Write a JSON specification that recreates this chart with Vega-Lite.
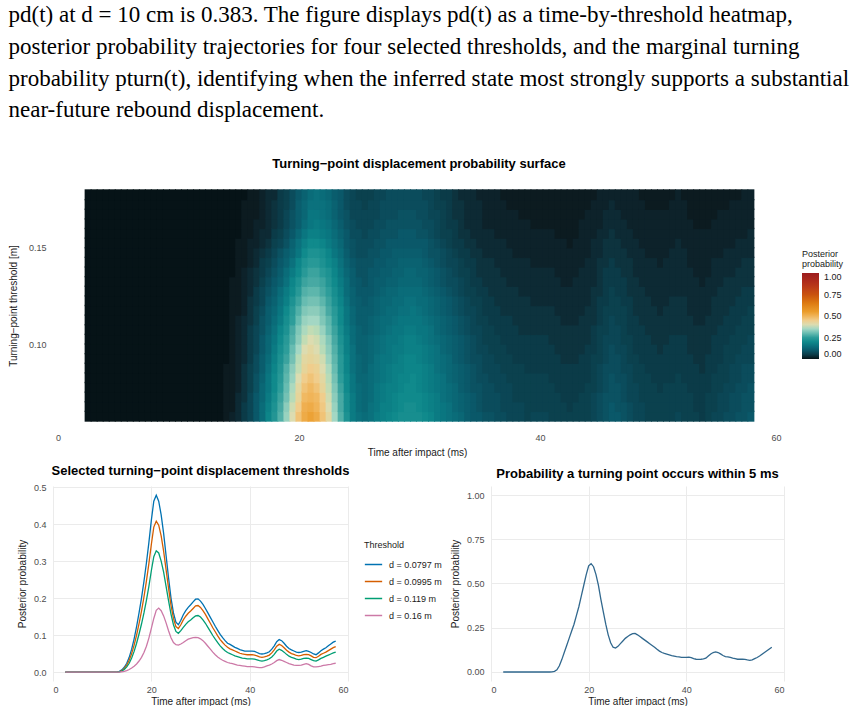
{
"$schema": "https://vega.github.io/schema/vega-lite/v6.json",
"background": "white",
"padding": {"left": 8, "top": 4, "right": 0, "bottom": 0},
"title": {"text": ["pd(t) at d = 10 cm is 0.383.  The figure displays pd(t) as a time-by-threshold heatmap,", "posterior probability trajectories for four selected thresholds, and the marginal turning", "probability pturn(t), identifying when the inferred state most strongly supports a substantial", "near-future rebound displacement."], "anchor": "start", "frame": "bounds", "font": "Liberation Serif", "fontSize": 23, "fontWeight": "normal", "lineHeight": 31.7, "color": "#000000", "offset": 36},
"config": {
  "view": {"stroke": null},
  "font": "Liberation Sans",
  "axis": {"domain": false, "ticks": false, "labelColor": "#4d4d4d", "labelFontSize": 9, "titleFontSize": 10, "titleFontWeight": "normal", "titleColor": "#1a1a1a", "gridColor": "#ebebeb", "gridWidth": 1},
  "legend": {"titleFontWeight": "normal", "titleFontSize": 9, "labelFontSize": 9, "labelColor": "#1a1a1a", "titleColor": "#1a1a1a"},
  "title": {"font": "Liberation Sans", "fontSize": 13, "fontWeight": "bold", "color": "#000000"}
},
"datasets": {
"th": [{"i":1,"d":0.0625},{"i":2,"d":0.0675},{"i":3,"d":0.0725},{"i":4,"d":0.0775},{"i":5,"d":0.0825},{"i":6,"d":0.0875},{"i":7,"d":0.0925},{"i":8,"d":0.0975},{"i":9,"d":0.1025},{"i":10,"d":0.1075},{"i":11,"d":0.1125},{"i":12,"d":0.1175},{"i":13,"d":0.1225},{"i":14,"d":0.1275},{"i":15,"d":0.1325},{"i":16,"d":0.1375},{"i":17,"d":0.1425},{"i":18,"d":0.1475},{"i":19,"d":0.1525},{"i":20,"d":0.1575},{"i":21,"d":0.1625},{"i":22,"d":0.1675},{"i":23,"d":0.1725},{"i":24,"d":0.1775}],
"hm": [
{"t":2.5,"p":[0,0,0,0,0,0,0,0,0,0,0,0,0,0,0,0,0,0,0,0,0,0,0,0]},
{"t":3.0,"p":[0,0,0,0,0,0,0,0,0,0,0,0,0,0,0,0,0,0,0,0,0,0,0,0]},
{"t":3.5,"p":[0,0,0,0,0,0,0,0,0,0,0,0,0,0,0,0,0,0,0,0,0,0,0,0]},
{"t":4.0,"p":[0,0,0,0,0,0,0,0,0,0,0,0,0,0,0,0,0,0,0,0,0,0,0,0]},
{"t":4.5,"p":[0,0,0,0,0,0,0,0,0,0,0,0,0,0,0,0,0,0,0,0,0,0,0,0]},
{"t":5.0,"p":[0,0,0,0,0,0,0,0,0,0,0,0,0,0,0,0,0,0,0,0,0,0,0,0]},
{"t":5.5,"p":[0,0,0,0,0,0,0,0,0,0,0,0,0,0,0,0,0,0,0,0,0,0,0,0]},
{"t":6.0,"p":[0,0,0,0,0,0,0,0,0,0,0,0,0,0,0,0,0,0,0,0,0,0,0,0]},
{"t":6.5,"p":[0,0,0,0,0,0,0,0,0,0,0,0,0,0,0,0,0,0,0,0,0,0,0,0]},
{"t":7.0,"p":[0,0,0,0,0,0,0,0,0,0,0,0,0,0,0,0,0,0,0,0,0,0,0,0]},
{"t":7.5,"p":[0,0,0,0,0,0,0,0,0,0,0,0,0,0,0,0,0,0,0,0,0,0,0,0]},
{"t":8.0,"p":[0,0,0,0,0,0,0,0,0,0,0,0,0,0,0,0,0,0,0,0,0,0,0,0]},
{"t":8.5,"p":[0,0,0,0,0,0,0,0,0,0,0,0,0,0,0,0,0,0,0,0,0,0,0,0]},
{"t":9.0,"p":[0,0,0,0,0,0,0,0,0,0,0,0,0,0,0,0,0,0,0,0,0,0,0,0]},
{"t":9.5,"p":[0,0,0,0,0,0,0,0,0,0,0,0,0,0,0,0,0,0,0,0,0,0,0,0]},
{"t":10.0,"p":[0,0,0,0,0,0,0,0,0,0,0,0,0,0,0,0,0,0,0,0,0,0,0,0]},
{"t":10.5,"p":[0,0,0,0,0,0,0,0,0,0,0,0,0,0,0,0,0,0,0,0,0,0,0,0]},
{"t":11.0,"p":[0,0,0,0,0,0,0,0,0,0,0,0,0,0,0,0,0,0,0,0,0,0,0,0]},
{"t":11.5,"p":[0,0,0,0,0,0,0,0,0,0,0,0,0,0,0,0,0,0,0,0,0,0,0,0]},
{"t":12.0,"p":[0,0,0,0,0,0,0,0,0,0,0,0,0,0,0,0,0,0,0,0,0,0,0,0]},
{"t":12.5,"p":[0,0,0,0,0,0,0,0,0,0,0,0,0,0,0,0,0,0,0,0,0,0,0,0]},
{"t":13.0,"p":[0,0,0,0,0,0,0,0,0,0,0,0,0,0,0,0,0,0,0,0,0,0,0,0]},
{"t":13.5,"p":[0,0,0,0,0,0,0,0,0,0,0,0,0,0,0,0,0,0,0,0,0,0,0,0]},
{"t":14.0,"p":[0.01,0.01,0.01,0.01,0.01,0.01,0,0,0,0,0,0,0,0,0,0,0,0,0,0,0,0,0,0]},
{"t":14.5,"p":[0.02,0.01,0.01,0.01,0.01,0.01,0.01,0.01,0.01,0.01,0.01,0.01,0.01,0.01,0.01,0,0,0,0,0,0,0,0,0]},
{"t":15.0,"p":[0.03,0.03,0.03,0.02,0.02,0.02,0.02,0.02,0.02,0.02,0.02,0.01,0.01,0.01,0.01,0.01,0.01,0.01,0.01,0,0,0,0,0]},
{"t":15.5,"p":[0.05,0.05,0.04,0.04,0.04,0.04,0.03,0.03,0.03,0.03,0.03,0.02,0.02,0.02,0.02,0.02,0.01,0.01,0.01,0.01,0.01,0.01,0.01,0]},
{"t":16.0,"p":[0.07,0.07,0.07,0.06,0.06,0.06,0.05,0.05,0.05,0.05,0.04,0.04,0.04,0.03,0.03,0.03,0.02,0.02,0.02,0.01,0.01,0.01,0.01,0.01]},
{"t":16.5,"p":[0.1,0.1,0.1,0.09,0.09,0.08,0.08,0.07,0.07,0.07,0.06,0.06,0.05,0.05,0.04,0.04,0.03,0.03,0.02,0.02,0.02,0.01,0.01,0.01]},
{"t":17.0,"p":[0.14,0.14,0.13,0.13,0.12,0.11,0.11,0.1,0.1,0.09,0.09,0.08,0.07,0.07,0.06,0.05,0.05,0.04,0.03,0.03,0.02,0.02,0.02,0.02]},
{"t":17.5,"p":[0.19,0.18,0.17,0.16,0.16,0.15,0.14,0.13,0.13,0.12,0.11,0.11,0.1,0.09,0.08,0.07,0.06,0.05,0.04,0.03,0.03,0.03,0.03,0.03]},
{"t":18.0,"p":[0.23,0.22,0.21,0.2,0.2,0.19,0.18,0.17,0.16,0.15,0.14,0.13,0.12,0.11,0.1,0.09,0.08,0.07,0.06,0.05,0.04,0.04,0.04,0.03]},
{"t":18.5,"p":[0.28,0.27,0.26,0.25,0.24,0.23,0.22,0.21,0.2,0.19,0.17,0.16,0.15,0.14,0.12,0.11,0.1,0.09,0.07,0.06,0.05,0.05,0.05,0.05]},
{"t":19.0,"p":[0.34,0.33,0.31,0.3,0.29,0.28,0.26,0.25,0.24,0.22,0.21,0.2,0.18,0.17,0.15,0.14,0.12,0.11,0.09,0.08,0.07,0.07,0.06,0.06]},
{"t":19.5,"p":[0.4,0.39,0.37,0.36,0.34,0.33,0.31,0.3,0.28,0.27,0.25,0.24,0.22,0.2,0.19,0.17,0.15,0.13,0.12,0.1,0.09,0.09,0.08,0.08]},
{"t":20.0,"p":[0.47,0.45,0.43,0.42,0.4,0.38,0.37,0.35,0.33,0.32,0.3,0.28,0.26,0.24,0.22,0.2,0.19,0.16,0.15,0.13,0.11,0.11,0.11,0.1]},
{"t":20.5,"p":[0.52,0.51,0.49,0.47,0.45,0.43,0.42,0.4,0.38,0.36,0.34,0.32,0.3,0.28,0.26,0.24,0.22,0.2,0.18,0.16,0.14,0.13,0.13,0.12]},
{"t":21.0,"p":[0.54,0.52,0.5,0.49,0.47,0.45,0.43,0.42,0.4,0.38,0.35,0.33,0.31,0.29,0.27,0.26,0.24,0.22,0.2,0.18,0.16,0.16,0.15,0.14]},
{"t":21.5,"p":[0.52,0.5,0.49,0.47,0.45,0.44,0.42,0.4,0.39,0.37,0.35,0.33,0.31,0.29,0.27,0.26,0.24,0.22,0.2,0.18,0.17,0.16,0.15,0.15]},
{"t":22.0,"p":[0.47,0.46,0.45,0.43,0.42,0.4,0.39,0.37,0.36,0.34,0.32,0.31,0.29,0.27,0.26,0.24,0.22,0.21,0.19,0.17,0.16,0.15,0.15,0.14]},
{"t":22.5,"p":[0.42,0.4,0.39,0.38,0.37,0.36,0.34,0.33,0.32,0.3,0.29,0.27,0.26,0.25,0.23,0.22,0.2,0.19,0.17,0.16,0.15,0.14,0.14,0.13]},
{"t":23.0,"p":[0.35,0.34,0.33,0.32,0.31,0.3,0.29,0.28,0.27,0.26,0.25,0.24,0.22,0.21,0.2,0.19,0.18,0.16,0.15,0.14,0.13,0.12,0.12,0.11]},
{"t":23.5,"p":[0.28,0.27,0.27,0.26,0.25,0.24,0.24,0.23,0.22,0.21,0.2,0.2,0.19,0.18,0.17,0.16,0.15,0.14,0.13,0.12,0.11,0.1,0.1,0.1]},
{"t":24.0,"p":[0.22,0.21,0.21,0.2,0.2,0.19,0.19,0.18,0.18,0.17,0.16,0.16,0.15,0.14,0.14,0.13,0.12,0.11,0.1,0.1,0.09,0.09,0.08,0.08]},
{"t":24.5,"p":[0.17,0.17,0.17,0.16,0.16,0.15,0.15,0.15,0.14,0.14,0.13,0.13,0.12,0.12,0.11,0.11,0.1,0.09,0.09,0.08,0.08,0.07,0.07,0.07]},
{"t":25.0,"p":[0.15,0.14,0.14,0.14,0.13,0.13,0.13,0.12,0.12,0.12,0.11,0.11,0.11,0.1,0.1,0.09,0.09,0.08,0.08,0.08,0.07,0.07,0.07,0.06]},
{"t":25.5,"p":[0.14,0.13,0.13,0.13,0.13,0.12,0.12,0.12,0.12,0.11,0.11,0.11,0.1,0.1,0.09,0.09,0.09,0.08,0.08,0.07,0.07,0.07,0.06,0.06]},
{"t":26.0,"p":[0.15,0.15,0.14,0.14,0.14,0.14,0.13,0.13,0.13,0.12,0.12,0.11,0.11,0.1,0.1,0.1,0.09,0.09,0.08,0.08,0.07,0.07,0.07,0.06]},
{"t":26.5,"p":[0.17,0.16,0.16,0.16,0.15,0.15,0.15,0.14,0.14,0.13,0.13,0.12,0.12,0.11,0.11,0.1,0.1,0.09,0.09,0.08,0.08,0.07,0.07,0.07]},
{"t":27.0,"p":[0.18,0.18,0.17,0.17,0.16,0.16,0.16,0.15,0.15,0.14,0.14,0.13,0.13,0.12,0.11,0.11,0.1,0.1,0.09,0.09,0.08,0.08,0.08,0.07]},
{"t":27.5,"p":[0.19,0.18,0.18,0.18,0.17,0.17,0.16,0.16,0.16,0.15,0.14,0.14,0.13,0.13,0.12,0.11,0.11,0.1,0.1,0.09,0.09,0.08,0.08,0.08]},
{"t":28.0,"p":[0.2,0.19,0.19,0.18,0.18,0.18,0.17,0.17,0.16,0.16,0.15,0.14,0.14,0.13,0.12,0.12,0.11,0.11,0.1,0.09,0.09,0.08,0.08,0.08]},
{"t":28.5,"p":[0.21,0.2,0.2,0.19,0.19,0.18,0.18,0.17,0.17,0.16,0.16,0.15,0.14,0.14,0.13,0.12,0.12,0.11,0.1,0.1,0.09,0.09,0.08,0.08]},
{"t":29.0,"p":[0.21,0.21,0.2,0.2,0.19,0.19,0.19,0.18,0.18,0.17,0.16,0.15,0.15,0.14,0.13,0.13,0.12,0.11,0.1,0.1,0.09,0.09,0.08,0.08]},
{"t":29.5,"p":[0.21,0.21,0.2,0.2,0.2,0.19,0.19,0.18,0.18,0.17,0.16,0.16,0.15,0.14,0.13,0.13,0.12,0.11,0.1,0.1,0.09,0.09,0.08,0.08]},
{"t":30.0,"p":[0.21,0.2,0.2,0.19,0.19,0.19,0.18,0.18,0.17,0.16,0.16,0.15,0.14,0.14,0.13,0.12,0.12,0.11,0.1,0.09,0.09,0.08,0.08,0.08]},
{"t":30.5,"p":[0.2,0.19,0.19,0.18,0.18,0.18,0.17,0.17,0.16,0.16,0.15,0.14,0.14,0.13,0.12,0.12,0.11,0.1,0.1,0.09,0.08,0.08,0.08,0.07]},
{"t":31.0,"p":[0.19,0.18,0.18,0.17,0.17,0.17,0.16,0.16,0.15,0.15,0.14,0.13,0.13,0.12,0.11,0.11,0.1,0.09,0.09,0.08,0.08,0.07,0.07,0.07]},
{"t":31.5,"p":[0.17,0.17,0.17,0.16,0.16,0.15,0.15,0.15,0.14,0.13,0.13,0.12,0.12,0.11,0.1,0.1,0.09,0.09,0.08,0.07,0.07,0.07,0.06,0.06]},
{"t":32.0,"p":[0.16,0.16,0.15,0.15,0.15,0.14,0.14,0.13,0.13,0.12,0.12,0.11,0.11,0.1,0.09,0.09,0.08,0.08,0.07,0.06,0.06,0.06,0.06,0.05]},
{"t":32.5,"p":[0.15,0.15,0.14,0.14,0.13,0.13,0.13,0.12,0.12,0.11,0.11,0.1,0.1,0.09,0.08,0.08,0.07,0.07,0.06,0.06,0.05,0.05,0.05,0.05]},
{"t":33.0,"p":[0.14,0.13,0.13,0.13,0.12,0.12,0.11,0.11,0.11,0.1,0.1,0.09,0.09,0.08,0.08,0.07,0.07,0.06,0.05,0.05,0.05,0.04,0.04,0.04]},
{"t":33.5,"p":[0.13,0.12,0.12,0.11,0.11,0.11,0.1,0.1,0.1,0.09,0.09,0.08,0.08,0.07,0.07,0.06,0.06,0.05,0.05,0.04,0.04,0.04,0.04,0.03]},
{"t":34.0,"p":[0.11,0.11,0.11,0.1,0.1,0.1,0.09,0.09,0.09,0.08,0.08,0.07,0.07,0.06,0.06,0.06,0.05,0.05,0.04,0.04,0.03,0.03,0.03,0.03]},
{"t":34.5,"p":[0.1,0.1,0.1,0.09,0.09,0.09,0.08,0.08,0.08,0.07,0.07,0.07,0.06,0.06,0.05,0.05,0.05,0.04,0.04,0.03,0.03,0.03,0.03,0.03]},
{"t":35.0,"p":[0.1,0.09,0.09,0.09,0.08,0.08,0.08,0.07,0.07,0.07,0.06,0.06,0.06,0.05,0.05,0.04,0.04,0.04,0.03,0.03,0.03,0.03,0.03,0.02]},
{"t":35.5,"p":[0.09,0.08,0.08,0.08,0.08,0.07,0.07,0.07,0.06,0.06,0.06,0.05,0.05,0.05,0.04,0.04,0.04,0.03,0.03,0.03,0.02,0.02,0.02,0.02]},
{"t":36.0,"p":[0.09,0.08,0.08,0.08,0.07,0.07,0.07,0.06,0.06,0.06,0.05,0.05,0.05,0.04,0.04,0.04,0.04,0.03,0.03,0.03,0.02,0.02,0.02,0.02]},
{"t":36.5,"p":[0.08,0.08,0.08,0.07,0.07,0.07,0.06,0.06,0.06,0.05,0.05,0.05,0.04,0.04,0.04,0.04,0.03,0.03,0.03,0.02,0.02,0.02,0.02,0.02]},
{"t":37.0,"p":[0.08,0.07,0.07,0.07,0.07,0.06,0.06,0.06,0.05,0.05,0.05,0.04,0.04,0.04,0.04,0.03,0.03,0.03,0.03,0.02,0.02,0.02,0.02,0.01]},
{"t":37.5,"p":[0.07,0.07,0.07,0.07,0.06,0.06,0.06,0.05,0.05,0.05,0.05,0.04,0.04,0.04,0.03,0.03,0.03,0.03,0.02,0.02,0.02,0.02,0.01,0.01]},
{"t":38.0,"p":[0.07,0.07,0.06,0.06,0.06,0.06,0.05,0.05,0.05,0.05,0.04,0.04,0.04,0.04,0.03,0.03,0.03,0.02,0.02,0.02,0.02,0.02,0.01,0.01]},
{"t":38.5,"p":[0.07,0.07,0.06,0.06,0.06,0.06,0.05,0.05,0.05,0.04,0.04,0.04,0.04,0.03,0.03,0.03,0.03,0.02,0.02,0.02,0.02,0.01,0.01,0.01]},
{"t":39.0,"p":[0.06,0.06,0.06,0.06,0.06,0.05,0.05,0.05,0.05,0.04,0.04,0.04,0.04,0.03,0.03,0.03,0.03,0.02,0.02,0.02,0.02,0.01,0.01,0.01]},
{"t":39.5,"p":[0.07,0.06,0.06,0.06,0.06,0.05,0.05,0.05,0.05,0.04,0.04,0.04,0.03,0.03,0.03,0.03,0.02,0.02,0.02,0.02,0.01,0.01,0.01,0.01]},
{"t":40.0,"p":[0.07,0.06,0.06,0.06,0.06,0.05,0.05,0.05,0.05,0.04,0.04,0.04,0.03,0.03,0.03,0.03,0.02,0.02,0.02,0.02,0.01,0.01,0.01,0.01]},
{"t":40.5,"p":[0.07,0.06,0.06,0.06,0.06,0.05,0.05,0.05,0.05,0.04,0.04,0.04,0.03,0.03,0.03,0.03,0.02,0.02,0.02,0.02,0.01,0.01,0.01,0.01]},
{"t":41.0,"p":[0.06,0.06,0.06,0.06,0.05,0.05,0.05,0.05,0.04,0.04,0.04,0.04,0.03,0.03,0.03,0.03,0.02,0.02,0.02,0.02,0.01,0.01,0.01,0.01]},
{"t":41.5,"p":[0.06,0.06,0.06,0.05,0.05,0.05,0.05,0.04,0.04,0.04,0.04,0.03,0.03,0.03,0.03,0.02,0.02,0.02,0.02,0.01,0.01,0.01,0.01,0.01]},
{"t":42.0,"p":[0.06,0.06,0.05,0.05,0.05,0.05,0.04,0.04,0.04,0.04,0.03,0.03,0.03,0.03,0.02,0.02,0.02,0.02,0.02,0.01,0.01,0.01,0.01,0.01]},
{"t":42.5,"p":[0.06,0.05,0.05,0.05,0.05,0.05,0.04,0.04,0.04,0.04,0.03,0.03,0.03,0.03,0.02,0.02,0.02,0.02,0.01,0.01,0.01,0.01,0.01,0.01]},
{"t":43.0,"p":[0.06,0.06,0.05,0.05,0.05,0.05,0.04,0.04,0.04,0.04,0.03,0.03,0.03,0.03,0.03,0.02,0.02,0.02,0.02,0.01,0.01,0.01,0.01,0.01]},
{"t":43.5,"p":[0.06,0.06,0.06,0.05,0.05,0.05,0.05,0.04,0.04,0.04,0.04,0.03,0.03,0.03,0.03,0.03,0.02,0.02,0.02,0.02,0.02,0.01,0.01,0.01]},
{"t":44.0,"p":[0.06,0.06,0.06,0.06,0.05,0.05,0.05,0.05,0.04,0.04,0.04,0.04,0.03,0.03,0.03,0.03,0.03,0.02,0.02,0.02,0.02,0.02,0.01,0.01]},
{"t":44.5,"p":[0.07,0.07,0.07,0.06,0.06,0.06,0.06,0.05,0.05,0.05,0.04,0.04,0.04,0.04,0.03,0.03,0.03,0.03,0.03,0.02,0.02,0.02,0.02,0.01]},
{"t":45.0,"p":[0.08,0.08,0.08,0.07,0.07,0.07,0.06,0.06,0.06,0.06,0.05,0.05,0.05,0.04,0.04,0.04,0.04,0.03,0.03,0.03,0.02,0.02,0.02,0.02]},
{"t":45.5,"p":[0.09,0.09,0.09,0.08,0.08,0.08,0.07,0.07,0.07,0.06,0.06,0.06,0.05,0.05,0.05,0.05,0.04,0.04,0.04,0.03,0.03,0.03,0.02,0.02]},
{"t":46.0,"p":[0.1,0.1,0.09,0.09,0.09,0.08,0.08,0.08,0.07,0.07,0.07,0.06,0.06,0.06,0.05,0.05,0.05,0.04,0.04,0.04,0.03,0.03,0.03,0.02]},
{"t":46.5,"p":[0.1,0.09,0.09,0.09,0.08,0.08,0.08,0.07,0.07,0.07,0.06,0.06,0.06,0.05,0.05,0.05,0.04,0.04,0.04,0.03,0.03,0.03,0.02,0.02]},
{"t":47.0,"p":[0.09,0.09,0.08,0.08,0.08,0.07,0.07,0.07,0.06,0.06,0.06,0.06,0.05,0.05,0.05,0.04,0.04,0.04,0.03,0.03,0.03,0.02,0.02,0.02]},
{"t":47.5,"p":[0.08,0.08,0.07,0.07,0.07,0.07,0.06,0.06,0.06,0.05,0.05,0.05,0.05,0.04,0.04,0.04,0.04,0.03,0.03,0.03,0.02,0.02,0.02,0.02]},
{"t":48.0,"p":[0.07,0.07,0.07,0.07,0.06,0.06,0.06,0.05,0.05,0.05,0.05,0.04,0.04,0.04,0.04,0.03,0.03,0.03,0.03,0.02,0.02,0.02,0.02,0.02]},
{"t":48.5,"p":[0.07,0.07,0.06,0.06,0.06,0.06,0.05,0.05,0.05,0.05,0.04,0.04,0.04,0.04,0.03,0.03,0.03,0.03,0.02,0.02,0.02,0.02,0.02,0.01]},
{"t":49.0,"p":[0.06,0.06,0.06,0.06,0.06,0.05,0.05,0.05,0.05,0.04,0.04,0.04,0.04,0.03,0.03,0.03,0.03,0.02,0.02,0.02,0.02,0.02,0.01,0.01]},
{"t":49.5,"p":[0.06,0.06,0.06,0.06,0.05,0.05,0.05,0.05,0.04,0.04,0.04,0.04,0.03,0.03,0.03,0.03,0.03,0.02,0.02,0.02,0.02,0.02,0.01,0.01]},
{"t":50.0,"p":[0.06,0.06,0.06,0.05,0.05,0.05,0.05,0.04,0.04,0.04,0.04,0.03,0.03,0.03,0.03,0.03,0.02,0.02,0.02,0.02,0.02,0.02,0.01,0.01]},
{"t":50.5,"p":[0.06,0.06,0.06,0.06,0.05,0.05,0.05,0.05,0.04,0.04,0.04,0.04,0.03,0.03,0.03,0.03,0.03,0.02,0.02,0.02,0.02,0.02,0.01,0.01]},
{"t":51.0,"p":[0.06,0.06,0.06,0.06,0.05,0.05,0.05,0.05,0.05,0.04,0.04,0.04,0.04,0.03,0.03,0.03,0.03,0.03,0.02,0.02,0.02,0.02,0.02,0.01]},
{"t":51.5,"p":[0.07,0.06,0.06,0.06,0.06,0.05,0.05,0.05,0.05,0.04,0.04,0.04,0.04,0.03,0.03,0.03,0.03,0.03,0.03,0.02,0.02,0.02,0.02,0.02]},
{"t":52.0,"p":[0.06,0.06,0.06,0.06,0.05,0.05,0.05,0.05,0.05,0.04,0.04,0.04,0.04,0.03,0.03,0.03,0.03,0.03,0.02,0.02,0.02,0.02,0.02,0.01]},
{"t":52.5,"p":[0.06,0.06,0.06,0.05,0.05,0.05,0.05,0.04,0.04,0.04,0.04,0.03,0.03,0.03,0.03,0.03,0.02,0.02,0.02,0.02,0.02,0.01,0.01,0.01]},
{"t":53.0,"p":[0.06,0.05,0.05,0.05,0.05,0.05,0.04,0.04,0.04,0.04,0.03,0.03,0.03,0.03,0.03,0.02,0.02,0.02,0.02,0.02,0.01,0.01,0.01,0.01]},
{"t":53.5,"p":[0.05,0.05,0.05,0.05,0.05,0.04,0.04,0.04,0.04,0.04,0.03,0.03,0.03,0.03,0.02,0.02,0.02,0.02,0.02,0.02,0.01,0.01,0.01,0.01]},
{"t":54.0,"p":[0.06,0.06,0.06,0.05,0.05,0.05,0.05,0.04,0.04,0.04,0.04,0.03,0.03,0.03,0.03,0.02,0.02,0.02,0.02,0.02,0.01,0.01,0.01,0.01]},
{"t":54.5,"p":[0.07,0.06,0.06,0.06,0.06,0.05,0.05,0.05,0.05,0.04,0.04,0.04,0.04,0.03,0.03,0.03,0.03,0.02,0.02,0.02,0.02,0.01,0.01,0.01]},
{"t":55.0,"p":[0.07,0.07,0.07,0.06,0.06,0.06,0.05,0.05,0.05,0.05,0.04,0.04,0.04,0.04,0.03,0.03,0.03,0.02,0.02,0.02,0.02,0.02,0.01,0.01]},
{"t":55.5,"p":[0.08,0.07,0.07,0.07,0.06,0.06,0.06,0.06,0.05,0.05,0.05,0.04,0.04,0.04,0.04,0.03,0.03,0.03,0.02,0.02,0.02,0.02,0.01,0.01]},
{"t":56.0,"p":[0.08,0.08,0.08,0.07,0.07,0.07,0.06,0.06,0.06,0.05,0.05,0.05,0.04,0.04,0.04,0.03,0.03,0.03,0.02,0.02,0.02,0.02,0.02,0.01]},
{"t":56.5,"p":[0.09,0.08,0.08,0.08,0.07,0.07,0.07,0.06,0.06,0.06,0.05,0.05,0.05,0.04,0.04,0.04,0.03,0.03,0.03,0.02,0.02,0.02,0.02,0.01]},
{"t":57.0,"p":[0.09,0.09,0.09,0.08,0.08,0.08,0.07,0.07,0.06,0.06,0.06,0.05,0.05,0.05,0.04,0.04,0.04,0.03,0.03,0.02,0.02,0.02,0.02,0.02]},
{"t":57.5,"p":[0.1,0.09,0.09,0.09,0.08,0.08,0.07,0.07,0.07,0.06,0.06,0.06,0.05,0.05,0.04,0.04,0.04,0.03,0.03,0.03,0.02,0.02,0.02,0.02]}
],
"ts": [
{"t":2.5,"a":0,"b":0,"c":0,"e":0,"q":0},{"t":3.0,"a":0,"b":0,"c":0,"e":0,"q":0},{"t":3.5,"a":0,"b":0,"c":0,"e":0,"q":0},{"t":4.0,"a":0,"b":0,"c":0,"e":0,"q":0},
{"t":4.5,"a":0,"b":0,"c":0,"e":0,"q":0},{"t":5.0,"a":0,"b":0,"c":0,"e":0,"q":0},{"t":5.5,"a":0,"b":0,"c":0,"e":0,"q":0},{"t":6.0,"a":0,"b":0,"c":0,"e":0,"q":0},
{"t":6.5,"a":0,"b":0,"c":0,"e":0,"q":0},{"t":7.0,"a":0,"b":0,"c":0,"e":0,"q":0},{"t":7.5,"a":0,"b":0,"c":0,"e":0,"q":0},{"t":8.0,"a":0,"b":0,"c":0,"e":0,"q":0},
{"t":8.5,"a":0,"b":0,"c":0,"e":0,"q":0},{"t":9.0,"a":0,"b":0,"c":0,"e":0,"q":0},{"t":9.5,"a":0,"b":0,"c":0,"e":0,"q":0},{"t":10.0,"a":0,"b":0,"c":0,"e":0,"q":0},
{"t":10.5,"a":0,"b":0,"c":0,"e":0,"q":0},{"t":11.0,"a":0,"b":0,"c":0,"e":0,"q":0},{"t":11.5,"a":0,"b":0,"c":0,"e":0,"q":0},{"t":12.0,"a":0,"b":0,"c":0,"e":0,"q":0},
{"t":12.5,"a":0,"b":0,"c":0,"e":0,"q":0.001},{"t":13.0,"a":0,"b":0,"c":0,"e":0,"q":0.004},
{"t":13.5,"a":0.002,"b":0.001,"c":0.001,"e":0,"q":0.012},
{"t":14.0,"a":0.006,"b":0.004,"c":0.003,"e":0.001,"q":0.035},
{"t":14.5,"a":0.013,"b":0.01,"c":0.007,"e":0.002,"q":0.07},
{"t":15.0,"a":0.024,"b":0.019,"c":0.014,"e":0.004,"q":0.11},
{"t":15.5,"a":0.04,"b":0.032,"c":0.024,"e":0.007,"q":0.15},
{"t":16.0,"a":0.062,"b":0.05,"c":0.038,"e":0.011,"q":0.19},
{"t":16.5,"a":0.09,"b":0.073,"c":0.056,"e":0.016,"q":0.23},
{"t":17.0,"a":0.123,"b":0.1,"c":0.078,"e":0.022,"q":0.27},
{"t":17.5,"a":0.16,"b":0.131,"c":0.103,"e":0.03,"q":0.32},
{"t":18.0,"a":0.2,"b":0.165,"c":0.13,"e":0.04,"q":0.37},
{"t":18.5,"a":0.245,"b":0.203,"c":0.16,"e":0.053,"q":0.43},
{"t":19.0,"a":0.295,"b":0.246,"c":0.194,"e":0.07,"q":0.49},
{"t":19.5,"a":0.35,"b":0.293,"c":0.232,"e":0.092,"q":0.55},
{"t":20.0,"a":0.41,"b":0.345,"c":0.274,"e":0.118,"q":0.6},
{"t":20.5,"a":0.462,"b":0.392,"c":0.312,"e":0.145,"q":0.612},
{"t":21.0,"a":0.478,"b":0.408,"c":0.328,"e":0.167,"q":0.595},
{"t":21.5,"a":0.462,"b":0.397,"c":0.322,"e":0.173,"q":0.55},
{"t":22.0,"a":0.425,"b":0.368,"c":0.3,"e":0.166,"q":0.49},
{"t":22.5,"a":0.375,"b":0.327,"c":0.27,"e":0.152,"q":0.41},
{"t":23.0,"a":0.315,"b":0.277,"c":0.232,"e":0.133,"q":0.34},
{"t":23.5,"a":0.255,"b":0.227,"c":0.193,"e":0.112,"q":0.27},
{"t":24.0,"a":0.2,"b":0.18,"c":0.157,"e":0.093,"q":0.21},
{"t":24.5,"a":0.16,"b":0.145,"c":0.128,"e":0.08,"q":0.165},
{"t":25.0,"a":0.135,"b":0.123,"c":0.11,"e":0.074,"q":0.14},
{"t":25.5,"a":0.128,"b":0.118,"c":0.105,"e":0.073,"q":0.135},
{"t":26.0,"a":0.14,"b":0.128,"c":0.112,"e":0.076,"q":0.145},
{"t":26.5,"a":0.155,"b":0.141,"c":0.121,"e":0.08,"q":0.16},
{"t":27.0,"a":0.166,"b":0.151,"c":0.129,"e":0.085,"q":0.175},
{"t":27.5,"a":0.175,"b":0.159,"c":0.136,"e":0.089,"q":0.19},
{"t":28.0,"a":0.182,"b":0.165,"c":0.141,"e":0.091,"q":0.2},
{"t":28.5,"a":0.19,"b":0.172,"c":0.147,"e":0.093,"q":0.21},
{"t":29.0,"a":0.197,"b":0.179,"c":0.152,"e":0.094,"q":0.217},
{"t":29.5,"a":0.198,"b":0.18,"c":0.153,"e":0.093,"q":0.218},
{"t":30.0,"a":0.192,"b":0.175,"c":0.149,"e":0.09,"q":0.21},
{"t":30.5,"a":0.183,"b":0.166,"c":0.141,"e":0.085,"q":0.2},
{"t":31.0,"a":0.172,"b":0.156,"c":0.132,"e":0.078,"q":0.19},
{"t":31.5,"a":0.16,"b":0.144,"c":0.121,"e":0.07,"q":0.18},
{"t":32.0,"a":0.148,"b":0.132,"c":0.11,"e":0.062,"q":0.17},
{"t":32.5,"a":0.136,"b":0.12,"c":0.099,"e":0.054,"q":0.16},
{"t":33.0,"a":0.124,"b":0.109,"c":0.089,"e":0.047,"q":0.15},
{"t":33.5,"a":0.113,"b":0.098,"c":0.08,"e":0.041,"q":0.14},
{"t":34.0,"a":0.102,"b":0.088,"c":0.071,"e":0.036,"q":0.128},
{"t":34.5,"a":0.093,"b":0.08,"c":0.064,"e":0.032,"q":0.118},
{"t":35.0,"a":0.085,"b":0.073,"c":0.058,"e":0.029,"q":0.11},
{"t":35.5,"a":0.078,"b":0.067,"c":0.053,"e":0.026,"q":0.105},
{"t":36.0,"a":0.075,"b":0.063,"c":0.05,"e":0.024,"q":0.101},
{"t":36.5,"a":0.071,"b":0.06,"c":0.047,"e":0.023,"q":0.097},
{"t":37.0,"a":0.067,"b":0.057,"c":0.044,"e":0.021,"q":0.093},
{"t":37.5,"a":0.064,"b":0.054,"c":0.042,"e":0.019,"q":0.09},
{"t":38.0,"a":0.061,"b":0.051,"c":0.04,"e":0.018,"q":0.087},
{"t":38.5,"a":0.059,"b":0.049,"c":0.038,"e":0.017,"q":0.085},
{"t":39.0,"a":0.057,"b":0.048,"c":0.037,"e":0.016,"q":0.083},
{"t":39.5,"a":0.057,"b":0.047,"c":0.036,"e":0.015,"q":0.083},
{"t":40.0,"a":0.057,"b":0.047,"c":0.036,"e":0.015,"q":0.083},
{"t":40.5,"a":0.057,"b":0.047,"c":0.036,"e":0.015,"q":0.084},
{"t":41.0,"a":0.056,"b":0.046,"c":0.035,"e":0.014,"q":0.081},
{"t":41.5,"a":0.053,"b":0.044,"c":0.033,"e":0.013,"q":0.075},
{"t":42.0,"a":0.05,"b":0.041,"c":0.031,"e":0.012,"q":0.072},
{"t":42.5,"a":0.049,"b":0.04,"c":0.03,"e":0.012,"q":0.071},
{"t":43.0,"a":0.05,"b":0.041,"c":0.031,"e":0.014,"q":0.072},
{"t":43.5,"a":0.052,"b":0.043,"c":0.033,"e":0.017,"q":0.074},
{"t":44.0,"a":0.055,"b":0.046,"c":0.036,"e":0.019,"q":0.078},
{"t":44.5,"a":0.062,"b":0.052,"c":0.041,"e":0.022,"q":0.09},
{"t":45.0,"a":0.071,"b":0.06,"c":0.048,"e":0.026,"q":0.102},
{"t":45.5,"a":0.082,"b":0.07,"c":0.057,"e":0.031,"q":0.11},
{"t":46.0,"a":0.088,"b":0.075,"c":0.062,"e":0.034,"q":0.113},
{"t":46.5,"a":0.085,"b":0.072,"c":0.059,"e":0.032,"q":0.11},
{"t":47.0,"a":0.078,"b":0.066,"c":0.054,"e":0.029,"q":0.102},
{"t":47.5,"a":0.07,"b":0.059,"c":0.048,"e":0.026,"q":0.093},
{"t":48.0,"a":0.064,"b":0.054,"c":0.043,"e":0.023,"q":0.087},
{"t":48.5,"a":0.06,"b":0.05,"c":0.04,"e":0.021,"q":0.085},
{"t":49.0,"a":0.057,"b":0.048,"c":0.038,"e":0.019,"q":0.082},
{"t":49.5,"a":0.054,"b":0.045,"c":0.035,"e":0.018,"q":0.078},
{"t":50.0,"a":0.053,"b":0.044,"c":0.034,"e":0.018,"q":0.075},
{"t":50.5,"a":0.054,"b":0.045,"c":0.035,"e":0.019,"q":0.072},
{"t":51.0,"a":0.056,"b":0.047,"c":0.037,"e":0.021,"q":0.072},
{"t":51.5,"a":0.058,"b":0.048,"c":0.038,"e":0.023,"q":0.073},
{"t":52.0,"a":0.056,"b":0.047,"c":0.037,"e":0.021,"q":0.071},
{"t":52.5,"a":0.053,"b":0.044,"c":0.034,"e":0.017,"q":0.068},
{"t":53.0,"a":0.049,"b":0.04,"c":0.031,"e":0.014,"q":0.066},
{"t":53.5,"a":0.047,"b":0.039,"c":0.03,"e":0.014,"q":0.068},
{"t":54.0,"a":0.052,"b":0.043,"c":0.033,"e":0.015,"q":0.075},
{"t":54.5,"a":0.058,"b":0.048,"c":0.037,"e":0.016,"q":0.082},
{"t":55.0,"a":0.062,"b":0.051,"c":0.04,"e":0.018,"q":0.09},
{"t":55.5,"a":0.066,"b":0.054,"c":0.043,"e":0.019,"q":0.1},
{"t":56.0,"a":0.071,"b":0.058,"c":0.046,"e":0.02,"q":0.11},
{"t":56.5,"a":0.076,"b":0.062,"c":0.049,"e":0.021,"q":0.12},
{"t":57.0,"a":0.081,"b":0.066,"c":0.052,"e":0.023,"q":0.13},
{"t":57.5,"a":0.084,"b":0.069,"c":0.054,"e":0.024,"q":0.14}
]
},
"bounds": "flush",
"spacing": 65,
"vconcat": [
{
  "width": 728, "height": 231,
  "title": {"text": "Turning−point displacement probability surface", "anchor": "middle", "frame": "group", "offset": 18, "dx": 2},
  "data": {"name": "hm"},
  "transform": [
    {"flatten": ["p"]},
    {"window": [{"op": "row_number", "as": "i"}], "groupby": ["t"]},
    {"lookup": "i", "from": {"data": {"name": "th"}, "key": "i", "fields": ["d"]}}
  ],
  "mark": {"type": "rect", "width": 7, "height": 11, "strokeWidth": 0},
  "encoding": {
    "x": {"field": "t", "type": "quantitative", "scale": {"domain": [-0.415, 60], "nice": false, "zero": false}, "axis": {"values": [0, 20, 40, 60], "format": "d", "grid": false, "labelPadding": 12, "title": "Time after impact (ms)", "titlePadding": 5}},
    "y": {"field": "d", "type": "quantitative", "scale": {"domain": [0.06, 0.18], "nice": false, "zero": false}, "axis": {"values": [0.1, 0.15], "format": ".2f", "grid": false, "labelPadding": 7, "title": "Turning−point threshold [m]", "titlePadding": 10}},
    "color": {"field": "p", "type": "quantitative",
      "scale": {"domain": [0, 0.05, 0.1, 0.15, 0.2, 0.25, 0.3, 0.35, 0.4, 0.45, 0.5, 0.55, 0.65, 0.75, 0.875, 1],
                "range": ["#061317", "#0b3b48", "#0a5869", "#0b717d", "#108a8c", "#2d9d9a", "#67bcb1", "#a3d7c4", "#dcdcb0", "#f0cd8c", "#f0b458", "#eb9d2c", "#dd7a12", "#c9520f", "#b3301a", "#9c1c1e"]},
      "legend": {"title": ["Posterior", "probability"], "orient": "none", "direction": "vertical", "legendX": 749, "legendY": 60, "gradientLength": 86, "gradientThickness": 17, "values": [0, 0.25, 0.5, 0.75, 1], "format": ".2f", "labelOffset": 5, "titlePadding": 4, "titleLineHeight": 10}}
  }
},
{
  "bounds": "flush",
  "spacing": 143,
  "hconcat": [
    {
      "width": 295, "height": 195,
      "title": {"text": "Selected turning−point displacement thresholds", "anchor": "middle", "frame": "group", "offset": 5},
      "data": {"name": "ts"},
      "transform": [{"fold": ["a", "b", "c", "e"], "as": ["k", "p"]}],
      "mark": {"type": "line", "strokeWidth": 1.3},
      "encoding": {
        "x": {"field": "t", "type": "quantitative", "scale": {"domain": [0, 60], "nice": false}, "axis": {"values": [0, 20, 40, 60], "format": "d", "title": "Time after impact (ms)", "labelPadding": 4, "titlePadding": 2}},
        "y": {"field": "p", "type": "quantitative", "scale": {"domain": [-0.024, 0.503], "nice": false, "zero": false}, "axis": {"values": [0, 0.1, 0.2, 0.3, 0.4, 0.5], "format": ".1f", "title": "Posterior probability", "labelPadding": 7, "titlePadding": 6}},
        "color": {"field": "k", "type": "nominal",
          "scale": {"domain": ["a", "b", "c", "e"], "range": ["#0072B2", "#D55E00", "#009E73", "#CC79A7"]},
          "legend": {"title": "Threshold", "orient": "none", "legendX": 311, "legendY": 55, "symbolType": "stroke", "symbolStrokeWidth": 1.5, "symbolSize": 300, "rowPadding": 2, "labelOffset": 6,
            "labelExpr": "datum.label == 'a' ? 'd = 0.0797 m' : datum.label == 'b' ? 'd = 0.0995 m' : datum.label == 'c' ? 'd = 0.119 m' : 'd = 0.16 m'"}}
      }
    },
    {
      "width": 293, "height": 195,
      "title": {"text": "Probability a turning point occurs within 5 ms", "anchor": "middle", "frame": "group", "offset": 5},
      "data": {"name": "ts"},
      "mark": {"type": "line", "strokeWidth": 1.3, "color": "#31688e"},
      "encoding": {
        "x": {"field": "t", "type": "quantitative", "scale": {"domain": [0, 60], "nice": false}, "axis": {"values": [0, 20, 40, 60], "format": "d", "title": "Time after impact (ms)", "labelPadding": 4, "titlePadding": 2}},
        "y": {"field": "q", "type": "quantitative", "scale": {"domain": [-0.051, 1.051], "nice": false, "zero": false}, "axis": {"values": [0, 0.25, 0.5, 0.75, 1], "format": ".2f", "title": "Posterior probability", "labelPadding": 7, "titlePadding": 6}}
      }
    }
  ]
}
]
}
